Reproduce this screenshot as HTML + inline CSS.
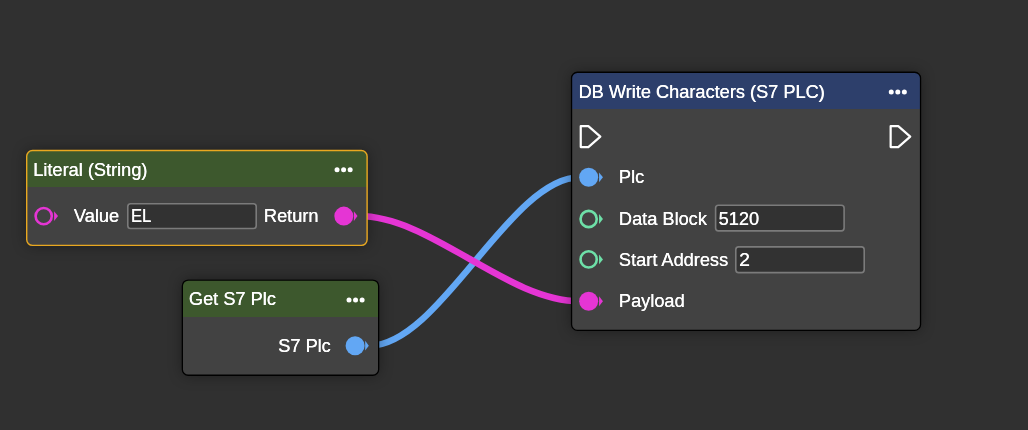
<!DOCTYPE html>
<html lang="en">
<head>
<meta charset="utf-8">
<title>Node Editor</title>
<style>
html,body{margin:0;padding:0}
body{width:1028px;height:430px;overflow:hidden;background:#303030;color:#fff;font-family:"Liberation Sans",sans-serif;font-size:18.2px}
#canvas{position:relative;width:1028px;height:430px;overflow:hidden;background:#303030}
#wires{position:absolute;left:0;top:0}
#wires path{fill:none;stroke-width:6.5}
.node{position:absolute;will-change:transform}
.node svg{position:absolute;left:0;top:0;overflow:visible}
.shadow{position:absolute;border-radius:6.5px;box-shadow:0 0 14px rgba(0,0,0,.36)}
.t{position:absolute;line-height:20px;white-space:nowrap;color:#fff;text-shadow:.3px 0 0 #fff;transform-origin:0 50%}
</style>
</head>
<body>
<div id="canvas">
<svg id="wires" width="1028" height="430" viewBox="0 0 1028 430">
  <path id="wire-s7plc-to-plc" d="M369.5 345.7 C439.7 345.7 509.8 177.3 580 177.3" stroke="#62a7f4"/>
  <path id="wire-return-to-payload" d="M358.2 216.1 C432.1 216.1 506.1 301.2 580 301.2" stroke="#e535d4"/>
</svg>
<div class="node selected" id="node-literal-string" style="left:26px;top:149px;width:342px;height:98px">
  <div class="shadow" style="left:0px;top:0.8px;width:341.8px;height:96.3px"></div>
  <svg width="342" height="98" viewBox="26 149 342 98">
    <rect class="body" x="26.7" y="150.5" width="340.4" height="94.9" rx="5.8" fill="#424242"/>
    <path class="header" d="M26.7 187 V156.3 A5.8 5.8 0 0 1 32.5 150.5 H361.3 A5.8 5.8 0 0 1 367.1 156.3 V187 Z" fill="#3d582d"/>
    <rect class="border" x="26.7" y="150.5" width="340.4" height="94.9" rx="5.8" fill="none" stroke="#e9a820" stroke-width="1.4"/>
    <g class="menu" fill="#fff"><circle cx="337.05" cy="169.87" r="2.5"/><circle cx="343.6" cy="169.87" r="2.5"/><circle cx="350.15" cy="169.87" r="2.5"/></g>
    <rect class="field" x="127.8" y="203.8" width="128.4" height="24.7" rx="2.8" fill="#323232" stroke="#7b7b7b" stroke-width="1.6"/>
    <g class="pin in"><circle cx="43.7" cy="216.1" r="8.1" fill="none" stroke="#e535d4" stroke-width="2.6"/><path d="M54.1 211.2 L58 216.1 L54.1 221 Z" fill="#e535d4"/></g>
    <g class="pin out linked"><circle cx="343.8" cy="216.1" r="9.5" fill="#e535d4"/><path d="M353.9 211.2 L357.5 216.1 L353.9 221 Z" fill="#e535d4"/></g>
  </svg>
  <div class="title t" style="left:7.1px;top:11px">Literal (String)</div>
  <span class="label t" style="left:47.8px;top:57px;">Value</span>
  <span class="value t" style="left:104.8px;top:57px;transform:scaleX(.9);">EL</span>
  <span class="label t" style="left:237.8px;top:57px;">Return</span>
</div>
<div class="node" id="node-get-s7-plc" style="left:181px;top:279px;width:199px;height:97px">
  <div class="shadow" style="left:0.7px;top:0.4px;width:197.6px;height:96.5px"></div>
  <svg width="199" height="97" viewBox="181 279 199 97">
    <rect class="body" x="182.35" y="280.05" width="196.3" height="95.2" rx="5.85" fill="#424242"/>
    <path class="header" d="M182.35 317 V285.9 A5.85 5.85 0 0 1 188.2 280.05 H372.8 A5.85 5.85 0 0 1 378.65 285.9 V317 Z" fill="#3d582d"/>
    <rect class="border" x="182.35" y="280.05" width="196.3" height="95.2" rx="5.85" fill="none" stroke="#000" stroke-width="1.3"/>
    <g class="menu" fill="#fff"><circle cx="349" cy="300" r="2.5"/><circle cx="355.55" cy="300" r="2.5"/><circle cx="362.1" cy="300" r="2.5"/></g>
    <g class="pin out linked"><circle cx="355.1" cy="345.7" r="9.5" fill="#62a7f4"/><path d="M365.2 340.8 L368.8 345.7 L365.2 350.6 Z" fill="#62a7f4"/></g>
  </svg>
  <div class="title t" style="left:7.8px;top:10px">Get S7 Plc</div>
  <span class="label t" style="left:97.1px;top:57px;">S7 Plc</span>
</div>
<div class="node" id="node-db-write-characters" style="left:570px;top:71px;width:352px;height:260px">
  <div class="shadow" style="left:0.9px;top:0.6px;width:350.3px;height:259.4px"></div>
  <svg width="352" height="260" viewBox="570 71 352 260">
    <rect class="body" x="571.55" y="72.25" width="349" height="258.1" rx="5.85" fill="#424242"/>
    <path class="header" d="M571.55 109 V78.1 A5.85 5.85 0 0 1 577.4 72.25 H914.7 A5.85 5.85 0 0 1 920.55 78.1 V109 Z" fill="#2d3f6b"/>
    <rect class="border" x="571.55" y="72.25" width="349" height="258.1" rx="5.85" fill="none" stroke="#000" stroke-width="1.3"/>
    <g class="menu" fill="#fff"><circle cx="891.25" cy="92.1" r="2.5"/><circle cx="897.8" cy="92.1" r="2.5"/><circle cx="904.35" cy="92.1" r="2.5"/></g>
    <path class="pin exec in" d="M580.75 126.15 H588.35 L600.35 136.6 L588.35 147.05 H580.75 Z" fill="none" stroke="#fff" stroke-width="2.2" stroke-linejoin="round"/>
    <path class="pin exec out" d="M890.65 126.15 H898.25 L910.25 136.6 L898.25 147.05 H890.65 Z" fill="none" stroke="#fff" stroke-width="2.2" stroke-linejoin="round"/>
    <g class="pin in linked"><circle cx="588.65" cy="177.3" r="9.5" fill="#62a7f4"/><path d="M599.05 172.4 L602.95 177.3 L599.05 182.2 Z" fill="#62a7f4"/></g>
    <g class="pin in"><circle cx="588.65" cy="219" r="8.1" fill="none" stroke="#6ee0a8" stroke-width="2.6"/><path d="M599.05 214.1 L602.95 219 L599.05 223.9 Z" fill="#6ee0a8"/></g>
    <rect class="field" x="715.6" y="205.2" width="128.5" height="25.7" rx="2.8" fill="#323232" stroke="#7b7b7b" stroke-width="1.6"/>
    <g class="pin in"><circle cx="588.65" cy="259.4" r="8.1" fill="none" stroke="#6ee0a8" stroke-width="2.6"/><path d="M599.05 254.5 L602.95 259.4 L599.05 264.3 Z" fill="#6ee0a8"/></g>
    <rect class="field" x="735.8" y="246.9" width="128.4" height="25.7" rx="2.8" fill="#323232" stroke="#7b7b7b" stroke-width="1.6"/>
    <g class="pin in linked"><circle cx="588.65" cy="301.25" r="9.5" fill="#e535d4"/><path d="M599.05 296.35 L602.95 301.25 L599.05 306.15 Z" fill="#e535d4"/></g>
  </svg>
  <div class="title t" style="left:8.4px;top:11px">DB Write Characters (S7 PLC)</div>
  <span class="label t" style="left:48.8px;top:96px;">Plc</span>
  <span class="label t" style="left:48.8px;top:138px;">Data Block</span>
  <span class="value t" style="left:148.5px;top:138px;">5120</span>
  <span class="label t" style="left:48.8px;top:179px;">Start Address</span>
  <span class="value t" style="left:168.8px;top:179px;transform:scaleX(1.07);">2</span>
  <span class="label t" style="left:48.8px;top:220px;">Payload</span>
</div>
</div>
</body>
</html>
